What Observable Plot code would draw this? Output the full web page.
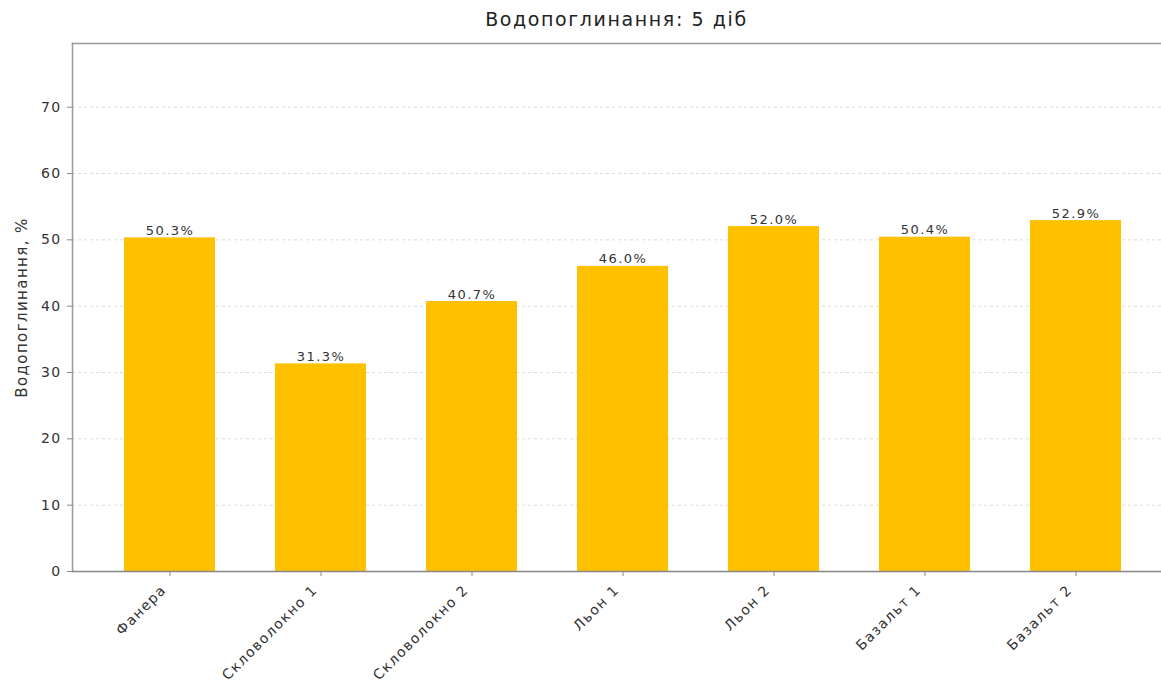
<!DOCTYPE html>
<html>
<head>
<meta charset="utf-8">
<script src="https://cdn.jsdelivr.net/npm/d3@7"></script>
<script src="https://cdn.jsdelivr.net/npm/@observablehq/plot@0.6"></script>
<style>
  html, body { margin: 0; padding: 0; background: #fff; }
  #title { box-sizing: border-box; width: 1161px; height: 36px; padding-left: 72px; text-align: center;
    font-family: "DejaVu Sans", sans-serif; font-size: 19px; letter-spacing: 1.6px; color: #222; line-height: 22px; padding-top: 8px; }
  #chart svg { display: block; }
</style>
</head>
<body>
<div id="title">Водопоглинання: 5 діб</div>
<div id="chart"></div>
<script>
const categories = ["Фанера", "Скловолокно 1", "Скловолокно 2", "Льон 1", "Льон 2", "Базальт 1", "Базальт 2"];
const values = [50.3, 31.3, 40.7, 46.0, 52.0, 50.4, 52.9];
const yTicks = [0, 10, 20, 30, 40, 50, 60, 70];
const gridTicks = [10, 20, 30, 40, 50, 60, 70];
const yLabel = "Водопоглинання, %";
const yMax = 79.6;

const data = categories.map((c, i) => ({category: c, value: values[i]}));

const chart = Plot.plot({
  width: 1161,
  height: 655,
  marginTop: 7,
  marginLeft: 72,
  marginRight: 0,
  marginBottom: 120,
  style: {fontFamily: "'DejaVu Sans', sans-serif", fontSize: "14px", color: "#333", background: "#fff", letterSpacing: "1.4px"},
  x: {domain: categories, paddingInner: 0.4, paddingOuter: 0.298, align: 0.561},
  y: {domain: [0, yMax]},
  marks: [
    Plot.gridY(gridTicks, {stroke: "#ccc", strokeOpacity: 0.7, strokeDasharray: "3,3"}),
    Plot.barY(data, {x: "category", y: "value", fill: "#FFC000"}),
    Plot.text(data, {x: "category", y: "value", text: d => d.value.toFixed(1) + "%", lineAnchor: "bottom", dy: -3, fontSize: 13, fill: "#333"}),
    Plot.axisY({ticks: yTicks, tickSize: 5, tickPadding: 6, stroke: "#888", fill: "#333", fontSize: 14, label: null}),
    Plot.axisY({ticks: [], label: yLabel, labelAnchor: "center", labelArrow: "none", labelOffset: 56, fontSize: 15}),
    Plot.axisX({tickSize: 5, text: null, stroke: "#888", label: null}),
    Plot.axisX({tickSize: 0, tickPadding: 8, tickRotate: -45, dx: -6, dy: 8, fill: "#333", label: null, fontSize: 14}),
    Plot.frame({anchor: "top", stroke: "#999", strokeWidth: 1.5}),
    Plot.frame({anchor: "left", stroke: "#999", strokeWidth: 1.5}),
    Plot.ruleY([0], {stroke: "#888", strokeWidth: 1.5})
  ]
});
document.getElementById("chart").appendChild(chart);
</script>
</body>
</html>
